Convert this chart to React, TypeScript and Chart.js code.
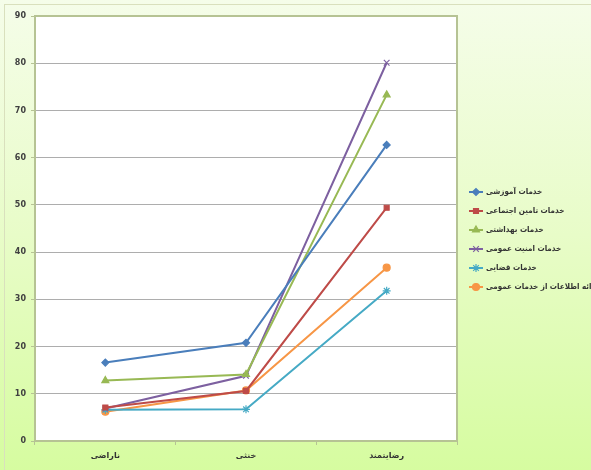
import React, { useEffect, useRef } from "react";
import { Chart, registerables } from "chart.js";
import { drawPoint } from "chart.js/helpers";

Chart.register(...registerables);

const categories = ["ناراضی", "خنثی", "رضایتمند"];
const seriesNames = [
  "خدمات آموزشی",
  "خدمات تامین اجتماعی",
  "خدمات بهداشتی",
  "خدمات امنیت عمومی",
  "خدمات قضایی",
  "ارائه اطلاعات از خدمات عمومی",
];
const education = [16.6, 20.8, 62.7];
const socialSecurity = [7.1, 10.6, 49.4];
const health = [12.8, 14.1, 73.3];
const publicSecurity = [6.9, 13.8, 80.1];
const judicial = [6.6, 6.7, 31.8];
const publicInfo = [6.2, 10.7, 36.7];
const yTicks = [0, 10, 20, 30, 40, 50, 60, 70, 80, 90];

const seriesValues = [education, socialSecurity, health, publicSecurity, judicial, publicInfo];
const colors = ["#4a7ebb", "#be4b48", "#98b954", "#7d60a0", "#46aac5", "#f79646"];
const styles: any[] = ["rectRot", "rect", "triangle", "crossRot", "star", "circle"];
const radii = [3.5, 3.5, 4, 4, 4, 3.5];

const FONT = '"DejaVu Sans", "Noto Sans", sans-serif';
const LEGEND_FONT = '"DejaVu Sans Condensed", "DejaVu Sans", sans-serif';

const framePlugin = {
  id: "frame",
  beforeDraw(chart: any) {
    const { ctx, chartArea: a } = chart;
    ctx.save();
    ctx.strokeStyle = "#d9e0bd";
    ctx.lineWidth = 1;
    ctx.strokeRect(4.5, 4.5, 600, 480);
    ctx.fillStyle = "#ffffff";
    ctx.fillRect(a.left, a.top, a.right - a.left, a.bottom - a.top);
    ctx.restore();
  },
  afterDraw(chart: any) {
    const { ctx, chartArea: a } = chart;
    ctx.save();
    ctx.strokeStyle = "#b6c394";
    ctx.lineWidth = 2;
    ctx.strokeRect(a.left, a.top, a.right - a.left, a.bottom - a.top);
    // legend
    const x0 = 469;
    const x1 = 483;
    const tx = 486;
    const y0 = 192;
    const dy = 19;
    ctx.font = `bold 8px ${LEGEND_FONT}`;
    ctx.textBaseline = "middle";
    ctx.textAlign = "left";
    chart.data.datasets.forEach((ds: any, i: number) => {
      const y = y0 + i * dy;
      ctx.strokeStyle = ds.borderColor;
      ctx.lineWidth = 2;
      ctx.beginPath();
      ctx.moveTo(x0, y);
      ctx.lineTo(x1, y);
      ctx.stroke();
      ctx.fillStyle = ds.pointBackgroundColor;
      ctx.strokeStyle = ds.pointBorderColor;
      ctx.lineWidth = 1.2;
      drawPoint(ctx, { pointStyle: ds.pointStyle, radius: ds.pointRadius, rotation: 0, borderWidth: 1.2 } as any, (x0 + x1) / 2, y);
      ctx.fillStyle = "#333333";
      ctx.fillText(ds.label, tx, y);
    });
    ctx.restore();
  },
};

export default function App() {
  const ref = useRef<HTMLCanvasElement>(null);
  useEffect(() => {
    if (!ref.current) return;
    const chart = new Chart(ref.current, {
      type: "line",
      data: {
        labels: categories,
        datasets: seriesValues.map((vals, i) => ({
          label: seriesNames[i],
          data: vals,
          borderColor: colors[i],
          backgroundColor: colors[i],
          pointBackgroundColor: colors[i],
          pointBorderColor: colors[i],
          pointStyle: styles[i],
          pointRadius: radii[i],
          pointBorderWidth: 1.2,
          borderWidth: 2,
          tension: 0,
        })),
      },
      options: {
        responsive: false,
        animation: false,
        layout: { padding: { top: 16, right: 134, left: 0, bottom: 0 } },
        plugins: { legend: { display: false }, tooltip: { enabled: false } },
        scales: {
          x: {
            offset: true,
            afterFit: (s: any) => {
              s.height = 29;
            },
            grid: {
              offset: true,
              drawOnChartArea: false,
              tickLength: 4,
              color: "#b6c394",
            },
            border: { display: false },
            ticks: {
              padding: 6,
              color: "#333333",
              font: { family: FONT, size: 8, weight: "bold" },
            },
          },
          y: {
            min: 0,
            max: 90,
            afterFit: (s: any) => {
              s.width = 35;
            },
            afterBuildTicks: (s: any) => {
              s.ticks = yTicks.map((v) => ({ value: v }));
            },
            grid: {
              color: "#adadad",
              lineWidth: 1,
              tickLength: 4,
              tickColor: "#b6c394",
            },
            border: { display: false },
            ticks: {
              padding: 5,
              color: "#404040",
              font: { family: FONT, size: 8, weight: "bold" },
            },
          },
        },
      },
      plugins: [framePlugin],
    });
    return () => chart.destroy();
  }, []);
  return (
    <div
      style={{
        position: "absolute",
        left: 0,
        top: 0,
        width: 591,
        height: 470,
        background: "linear-gradient(to bottom, #f5fde9 0%, #e8fcc8 50%, #d6fca0 100%)",
      }}
    >
      <canvas ref={ref} width={591} height={470} />
    </div>
  );
}
